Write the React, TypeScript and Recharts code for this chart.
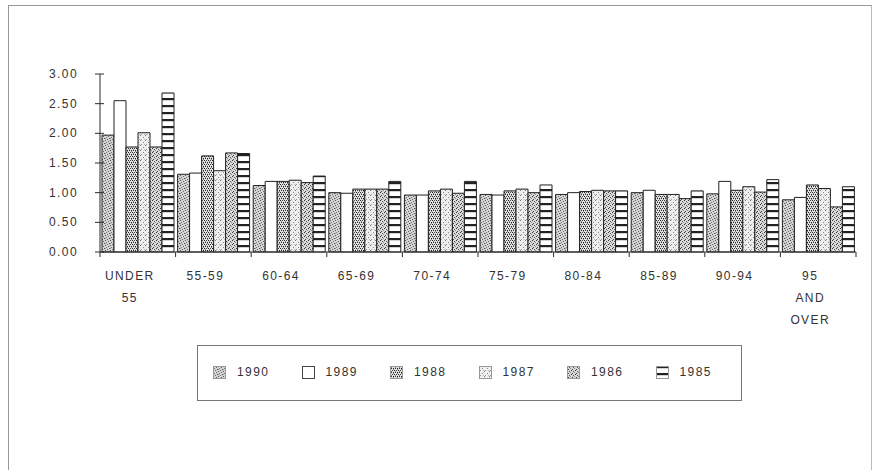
import React from "react";
import { BarChart, Bar, XAxis, YAxis } from "recharts";

const categories = [
  "UNDER 55",
  "55-59",
  "60-64",
  "65-69",
  "70-74",
  "75-79",
  "80-84",
  "85-89",
  "90-94",
  "95 AND OVER",
];

const years = ["1990", "1989", "1988", "1987", "1986", "1985"];

const v1990 = [1.97, 1.31, 1.12, 1.0, 0.96, 0.97, 0.97, 1.0, 0.98, 0.88];
const v1989 = [2.55, 1.33, 1.19, 0.99, 0.96, 0.96, 1.0, 1.04, 1.19, 0.92];
const v1988 = [1.77, 1.62, 1.19, 1.06, 1.03, 1.03, 1.02, 0.97, 1.04, 1.13];
const v1987 = [2.01, 1.37, 1.21, 1.06, 1.06, 1.06, 1.04, 0.97, 1.1, 1.07];
const v1986 = [1.77, 1.67, 1.17, 1.06, 0.99, 1.0, 1.03, 0.9, 1.01, 0.76];
const v1985 = [2.68, 1.66, 1.28, 1.19, 1.19, 1.13, 1.03, 1.03, 1.22, 1.1];

const yTicks = [0, 0.5, 1, 1.5, 2, 2.5, 3];

const seriesValues = [v1990, v1989, v1988, v1987, v1986, v1985];

const data = categories.map((name, i) => {
  const row: Record<string, string | number> = { name };
  years.forEach((y, k) => {
    row["y" + y] = seriesValues[k][i];
  });
  return row;
});

const W = 877;
const H = 470;
const PLOT_LEFT = 100;
const PLOT_RIGHT = 856;
const HALF_BAND = (PLOT_RIGHT - PLOT_LEFT) / categories.length / 2;
const FONT = "'Liberation Sans', Arial, sans-serif";
const INK = "#2a2a2a";

// scattered-dot stipple, [x, y, colour] inside a 5x5 tile
const dots = (list: [number, number, string][]) =>
  list.map(([x, y, c], i) => <rect key={i} x={x} y={y} width={1} height={1} fill={c} />);

function Patterns() {
  return (
    <svg width={0} height={0} style={{ position: "absolute" }}>
      <defs>
        <pattern id="p1990" width="5" height="5" patternUnits="userSpaceOnUse">
          <rect width="5" height="5" fill="#d4d4d4" />
          {dots([
            [0, 0, "#555"],
            [3, 1, "#666"],
            [1, 2, "#777"],
            [4, 3, "#555"],
            [2, 4, "#666"],
            [0, 3, "#999"],
          ])}
        </pattern>
        <pattern id="p1989" width="4" height="4" patternUnits="userSpaceOnUse">
          <rect width="4" height="4" fill="#ffffff" />
        </pattern>
        <pattern id="p1988" width="4" height="4" patternUnits="userSpaceOnUse">
          <rect width="4" height="4" fill="#e2e2e2" />
          {dots([
            [0, 0, "#222"],
            [2, 0, "#444"],
            [1, 2, "#333"],
            [3, 2, "#222"],
            [1, 1, "#888"],
            [3, 3, "#888"],
          ])}
        </pattern>
        <pattern id="p1987" width="5" height="5" patternUnits="userSpaceOnUse">
          <rect width="5" height="5" fill="#eeeeee" />
          {dots([
            [0, 0, "#777"],
            [3, 2, "#888"],
            [1, 4, "#999"],
            [4, 4, "#bbb"],
          ])}
        </pattern>
        <pattern id="p1986" width="4" height="4" patternUnits="userSpaceOnUse">
          <rect width="4" height="4" fill="#dadada" />
          {dots([
            [0, 0, "#333"],
            [2, 1, "#555"],
            [1, 3, "#444"],
            [3, 2, "#888"],
          ])}
        </pattern>
        <pattern id="p1985" width="6" height="7" patternUnits="userSpaceOnUse">
          <rect width="6" height="7" fill="#ffffff" />
          <rect x="0" y="0" width="6" height="2.2" fill="#222" />
        </pattern>
      </defs>
    </svg>
  );
}

function YTick(props: any) {
  const { x, y, payload } = props;
  return (
    <g>
      <line x1={x - 5} x2={x + 4} y1={y} y2={y} stroke={INK} strokeWidth={1} />
      <text
        x={x - 22}
        y={y}
        dy={4}
        textAnchor="end"
        fontFamily={FONT}
        fontSize={12}
        letterSpacing={1.4}
        fill="#333"
      >
        {Number(payload.value).toFixed(2)}
      </text>
    </g>
  );
}

function XTick(props: any) {
  const { x, y, payload, index } = props;
  const lines = String(payload.value).split(" ");
  const last = index === categories.length - 1;
  return (
    <g>
      <line x1={x - HALF_BAND} x2={x - HALF_BAND} y1={y} y2={y + 5} stroke={INK} />
      {last && (
        <line x1={x + HALF_BAND} x2={x + HALF_BAND} y1={y} y2={y + 5} stroke={INK} />
      )}
      <text
        x={x - 8}
        y={y + 28}
        textAnchor="middle"
        fontFamily={FONT}
        fontSize={12}
        letterSpacing={1.4}
        fill="#333"
      >
        {lines.map((l, i) => (
          <tspan key={i} x={x - 8} dy={i === 0 ? 0 : 22}>
            {l}
          </tspan>
        ))}
      </text>
    </g>
  );
}

function LegendBox() {
  return (
    <div
      style={{
        position: "absolute",
        left: 197,
        top: 345,
        width: 545,
        height: 56,
        border: "1px solid #777",
        boxSizing: "border-box",
      }}
    >
      {years.map((y, k) => (
        <div
          key={y}
          style={{
            position: "absolute",
            left: 15 + k * 88.5,
            top: 19,
            display: "flex",
            alignItems: "center",
            fontFamily: FONT,
            fontSize: 12,
            letterSpacing: 1.4,
            color: "#333",
          }}
        >
          <svg width={13} height={13} style={{ marginRight: 11 }}>
            <rect
              x={0.5}
              y={0.5}
              width={12}
              height={12}
              fill={`url(#p${y})`}
              stroke={k === 1 ? "#444" : "#999"}
            />
          </svg>
          {y}
        </div>
      ))}
    </div>
  );
}

export default function App() {
  return (
    <div
      style={{
        position: "absolute",
        left: 0,
        top: 0,
        width: W,
        height: H,
        background: "#fff",
        overflow: "hidden",
      }}
    >
      <Patterns />
      <div
        style={{
          position: "absolute",
          left: 8,
          top: 5,
          width: 862,
          height: 480,
          borderLeft: "1px solid #999",
          borderTop: "1px solid #999",
          borderRight: "1px solid #bbb",
        }}
      />
      <div style={{ position: "absolute", left: 0, top: 0 }}>
        <BarChart
          width={W}
          height={H}
          data={data}
          margin={{ top: 74, right: W - PLOT_RIGHT, left: 0, bottom: H - 252 - 80 }}
          barCategoryGap={2}
          barGap={0}
        >
          <XAxis
            dataKey="name"
            interval={0}
            height={80}
            tickLine={false}
            tickSize={0}
            tickMargin={0}
            axisLine={{ stroke: INK }}
            tick={<XTick />}
          />
          <YAxis
            width={PLOT_LEFT}
            domain={[0, 3]}
            ticks={yTicks}
            interval={0}
            tickLine={false}
            tickSize={0}
            tickMargin={0}
            axisLine={{ stroke: INK }}
            tick={<YTick />}
          />
          {years.map((y) => (
            <Bar
              key={y}
              dataKey={"y" + y}
              name={y}
              fill={`url(#p${y})`}
              stroke="#222"
              strokeWidth={1}
              isAnimationActive={false}
            />
          ))}
        </BarChart>
      </div>
      <LegendBox />
    </div>
  );
}
